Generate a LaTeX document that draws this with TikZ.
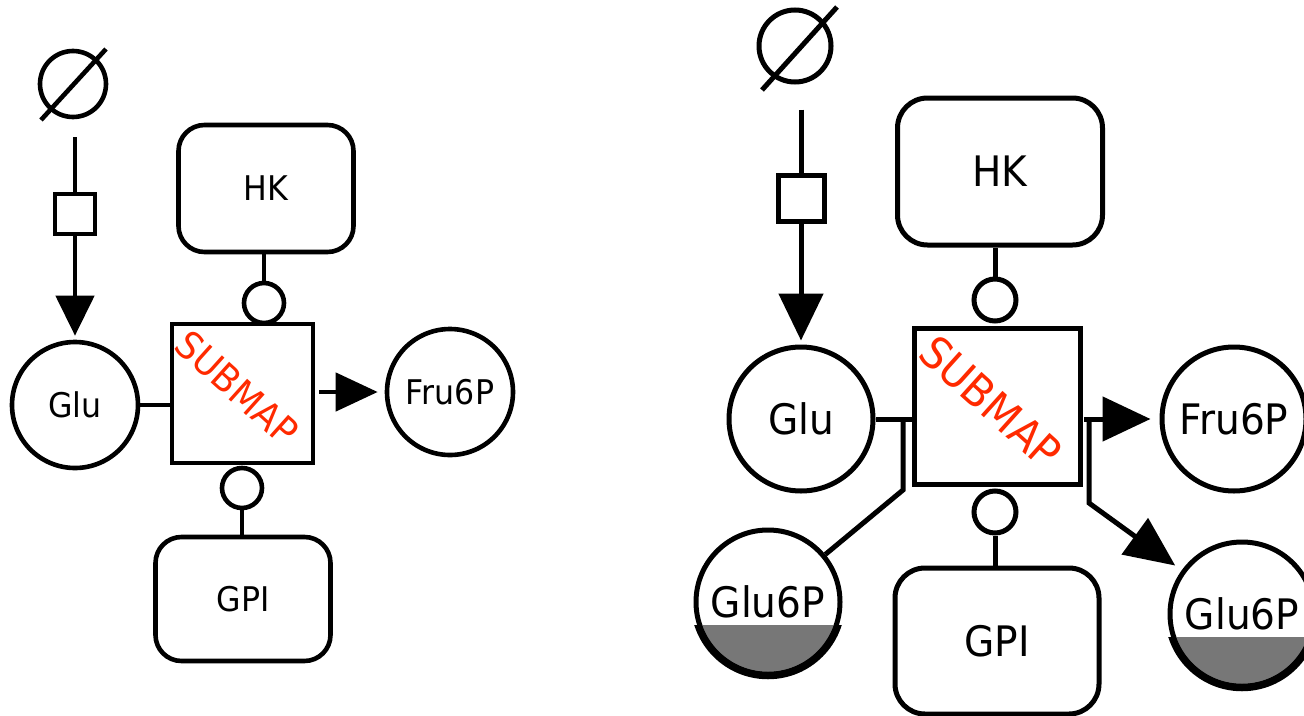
\documentclass[tikz,border=0pt]{standalone}
\usepackage{fontspec}
\setmainfont{DejaVu Sans}[FakeStretch=0.93]
\usepackage{tikz}
\usetikzlibrary{arrows.meta}
\definecolor{mapred}{RGB}{255,42,0}
\definecolor{clonegray}{RGB}{119,119,119}
\tikzset{every node/.append style={inner sep=0pt}}
\tikzset{sink/.style={circle,draw,minimum size=#1}}
\tikzset{species/.style={circle,draw,minimum size=#1}}
\tikzset{process/.style={rectangle,draw,minimum size=#1}}
\tikzset{enzyme/.style={rectangle,draw,rounded corners=#1}}
\tikzset{submap/.style={rectangle,draw}}
\tikzset{modifier/.style={circle,draw,minimum size=#1}}
\tikzset{maptext/.style={text=mapred,rotate=-42}}
\tikzset{prod/.style 2 args={-{Triangle[length=#1,width=#2]}}}

% gray clone marker on the lower part of a species
\newcommand{\clonemark}[2]{%
  \begin{scope}
    \clip (#1.center) circle (#2-2pt);
    \fill[clonegray] ([yshift=-23pt]#1.center) ++(-90,0) rectangle ++(180,90);
  \end{scope}
  \begin{scope}
    \clip ([yshift=-23pt]#1.center) ++(-90,0) rectangle ++(180,90);
    \draw[line width=7.5pt] (#1.center) circle (#2+1.5pt);
  \end{scope}}

\begin{document}
\begin{tikzpicture}[x=1pt,y=-1pt]
  \useasboundingbox (0,0) rectangle (1304,715);
  % left map
  \begin{scope}[line width=4.6pt,font=\fontsize{34}{40}\selectfont]
    \node[sink=66pt] (srcL) at (73,84) {};
    \draw ([shift={(-32,36)}]srcL.center) -- ([shift={(33,-35)}]srcL.center);
    \node[process=40pt] (procL) at (75,214) {};
    \node[species=126pt] (GluL) at (75,405) {Glu};
    \node[submap,minimum width=141pt,minimum height=139pt] (subL) at (242.5,393.5) {};
    \node[maptext,font=\fontsize{38}{40}\selectfont] (subLtxt) at (237,388) {SUBMAP};
    \node[enzyme=26pt,minimum width=175pt,minimum height=127pt] (hkL) at (266,188.5) {HK};
    \node[enzyme=26pt,minimum width=175pt,minimum height=124pt] (gpiL) at (243,599) {GPI};
    \node[modifier=40pt] (modL1) at (264,303) {};
    \node[modifier=40pt] (modL2) at (242,488) {};
    \node[species=126pt] (FruL) at (450,392) {Fru6P};
    \coordinate (outL) at (319,392);
    \draw[shorten <=18pt] (procL.north |- srcL.south) -- (procL.north);
    \draw[prod={40pt}{38pt},shorten >=4pt] (procL) -- (GluL);
    \draw (GluL.east) -- (GluL.east -| subL.west);
    \draw[prod={42pt}{38pt},shorten >=7pt] (outL) -- (FruL);
    \draw (modL1.north) -- (modL1.north |- hkL.south);
    \draw (modL2.south) -- (modL2.south |- gpiL.north);
  \end{scope}
  % right map
  \begin{scope}[line width=5pt,font=\fontsize{42}{48}\selectfont]
    \node[sink=72pt] (srcR) at (795,46) {};
    \draw ([shift={(-33,44)}]srcR.center) -- ([shift={(42,-39)}]srcR.center);
    \node[process=46pt] (procR) at (801,198) {};
    \node[species=144pt] (GluR) at (801,419) {Glu};
    \node[submap,minimum width=166pt,minimum height=156pt] (subR) at (997,406) {};
    \node[maptext,font=\fontsize{44}{48}\selectfont] (subRtxt) at (991,402) {SUBMAP};
    \node[enzyme=30pt,minimum width=205pt,minimum height=147pt] (hkR) at (1000,171.5) {HK};
    \node[enzyme=30pt,minimum width=204pt,minimum height=146pt] (gpiR) at (997,641) {GPI};
    \node[modifier=42pt] (modR1) at (995,300) {};
    \node[modifier=42pt] (modR2) at (995,512) {};
    \node[species=144pt] (FruR) at (1234,419) {Fru6P};
    \node[species=144pt] (G6L) at (768,602) {Glu6P};
    \node[species=144pt] (G6R) at (1242,614) {Glu6P};
    \coordinate (splitR) at (903,419);
    \coordinate (outR) at (1084,419);
    \coordinate (forkR) at (1089,419);
    \draw[shorten <=25pt] (procR.north |- srcR.south) -- (procR.north);
    \draw[prod={47pt}{44pt},shorten >=4pt] (procR) -- (GluR);
    \draw (GluR.east) -- (GluR.east -| subR.west);
    \draw (splitR) -- ++(0,71) -- (G6L);
    \draw[prod={48pt}{44pt},shorten >=9pt] (outR) -- (FruR);
    \draw[prod={50pt}{44pt},shorten >=8pt] (forkR) -- ++(0,84) -- (G6R);
    \draw (modR1.north) -- (modR1.north |- hkR.south);
    \draw (modR2.south) -- (modR2.south |- gpiR.north);
    \clonemark{G6L}{72pt}
    \clonemark{G6R}{72pt}
  \end{scope}
\end{tikzpicture}
\end{document}
